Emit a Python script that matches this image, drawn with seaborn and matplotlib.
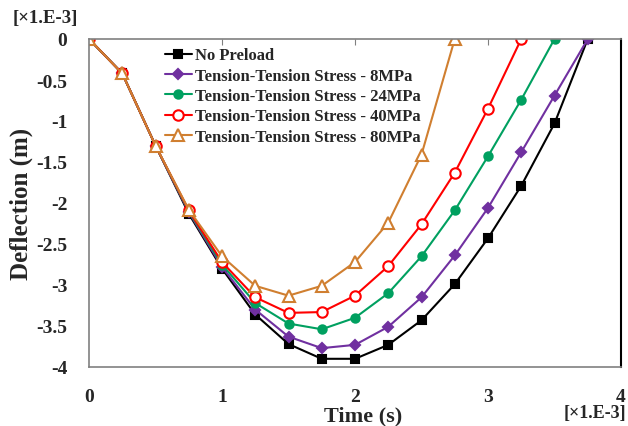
import matplotlib
matplotlib.use("Agg")
import matplotlib.pyplot as plt
import seaborn as sns
import pandas as pd

time_ms = [0, 0.25, 0.5, 0.75, 1.0, 1.25, 1.5, 1.75, 2.0, 2.25, 2.5, 2.75, 3.0, 3.25, 3.5, 3.75]

no_preload = [0, -0.42, -1.30, -2.13, -2.80, -3.36, -3.72, -3.90, -3.90, -3.73, -3.43, -2.99, -2.43, -1.79, -1.03, 0]
stress_8 = [0, -0.42, -1.30, -2.11, -2.78, -3.30, -3.63, -3.77, -3.73, -3.51, -3.15, -2.64, -2.06, -1.38, -0.69, 0]
stress_24 = [0, -0.42, -1.30, -2.10, -2.75, -3.22, -3.47, -3.54, -3.40, -3.10, -2.65, -2.09, -1.43, -0.74, 0]
stress_40 = [0, -0.42, -1.30, -2.09, -2.72, -3.15, -3.34, -3.33, -3.13, -2.77, -2.26, -1.63, -0.85, 0]
stress_80 = [0, -0.42, -1.30, -2.08, -2.65, -3.01, -3.13, -3.01, -2.72, -2.24, -1.41, 0]

labels = ["No Preload",
          "Tension-Tension Stress - 8MPa",
          "Tension-Tension Stress - 24MPa",
          "Tension-Tension Stress - 40MPa",
          "Tension-Tension Stress - 80MPa"]
series = [no_preload, stress_8, stress_24, stress_40, stress_80]
colors = ["#000000", "#7030A0", "#00A060", "#FF0000", "#D07F30"]
styles = [dict(marker="s", ms=6, mfc="#000000"),
          dict(marker="D", ms=5, mfc="#7030A0"),
          dict(marker="o", ms=6, mfc="#00A060"),
          dict(marker="o", ms=7.5, mfc="white"),
          dict(marker="^", ms=8.5, mfc="white")]

sns.set_style("white")
plt.rcParams["font.family"] = ["Liberation Serif", "DejaVu Serif"]
plt.rcParams["font.weight"] = "bold"

fig = plt.figure(figsize=(6.28, 4.27), dpi=100)
ax = fig.add_axes([89/628, 1-368/427, 532/628, 328/427])

for lab, ys, col, st in zip(labels, series, colors, styles):
    df = pd.DataFrame({"t": time_ms[:len(ys)], "d": ys})
    sns.lineplot(data=df, x="t", y="d", ax=ax, color=col, label=lab,
                 linewidth=1.5, marker=st["marker"], markersize=st["ms"],
                 markerfacecolor=st["mfc"], markeredgecolor=col,
                 markeredgewidth=1.5, sort=False)

ax.set_xlim(0, 4)
ax.set_ylim(-4, 0)
ax.set_xticks([0, 1, 2, 3, 4])
ax.set_yticks([0, -0.5, -1, -1.5, -2, -2.5, -3, -3.5, -4])
ax.set_yticklabels(["0", "-0.5", "-1", "-1.5", "-2", "-2.5", "-3", "-3.5", "-4"])
ax.tick_params(axis="x", which="both", top=True, bottom=False, direction="in",
               length=4, color="#808080", labelsize=14, pad=15)
ax.tick_params(axis="y", left=False, labelsize=14, pad=12)
for lbl in ax.get_xticklabels() + ax.get_yticklabels():
    lbl.set_fontweight("bold")

for side in ["top", "left", "bottom"]:
    ax.spines[side].set_color("#808080")
    ax.spines[side].set_linewidth(1.2)
ax.spines["right"].set_color("#000000")
ax.spines["right"].set_linewidth(1.5)

ax.set_xlabel("Time (s)", fontsize=16, fontweight="bold")
ax.xaxis.set_label_coords((363-89)/532, (368-416)/328)
ax.xaxis.label.set_va("center")
ax.set_ylabel("Deflection (m)", fontsize=18, fontweight="bold")
ax.yaxis.set_label_coords((21-89)/532, 0.5)
ax.yaxis.label.set_va("center")

fig.text(13/628, 1-18/427, "[×1.E-3]", fontsize=13.5, fontweight="bold", va="center", ha="left")
fig.text(626/628, 1-414/427, "[×1.E-3]", fontsize=13, fontweight="bold", va="center", ha="right")

leg = ax.legend(loc="upper left", bbox_to_anchor=(0.127, 1.0), frameon=False,
                fontsize=12, handlelength=1.6, handletextpad=0.2, labelspacing=0.26,
                borderaxespad=0.1)
for t in leg.get_texts():
    t.set_fontweight("bold")

fig.savefig("out.png", dpi=100)
